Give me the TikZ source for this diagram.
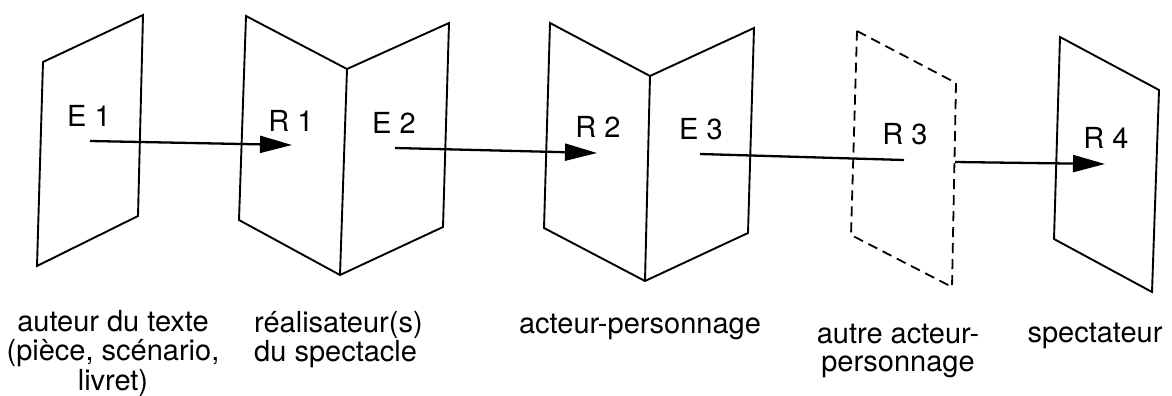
\documentclass[tikz,border=0pt]{standalone}
\usepackage{fontspec}
\setmainfont{TeX Gyre Heros}
\usetikzlibrary{arrows.meta}
\begin{document}
\begin{tikzpicture}[x=1pt,y=-1pt,
  panel/.style={line width=1.9pt, line join=miter},
  ghost/.style={line width=1.8pt, dash pattern=on 10pt off 6pt},
  flow/.style={line width=2.3pt, -{Triangle[length=32pt,width=17pt]}},
  flowplain/.style={line width=2.3pt},
  tag/.style={anchor=base, inner sep=0pt, font=\fontsize{29}{28.5}\selectfont},
  captext/.style={inner sep=0pt, font=\fontsize{29}{28.5}\selectfont}]
\useasboundingbox (0,0) rectangle (1172,396);

% panels
\draw[panel] (43,62) -- (143,15) -- (138,216) -- (37,266) -- cycle;
\draw[panel] (347,69) -- (246,16) -- (239,220) -- (340,275) -- (443,227) -- (449,23) -- cycle;
\draw[panel] (347,69) -- (340,275);
\draw[panel] (650,76) -- (550,23) -- (544,228) -- (645,281) -- (748,233) -- (754,28) -- cycle;
\draw[panel] (650,76) -- (645,281);
\draw[ghost] (857,31) -- (956,83) -- (952,287) -- (851,235) -- cycle;
\draw[panel] (1060,37) -- (1159,90) -- (1152,292) -- (1054,239) -- cycle;

% panel labels
\node[tag] (e1) at (89,126) {E 1};
\node[tag] (r1) at (291,131) {R 1};
\node[tag] (e2) at (394,133) {E 2};
\node[tag] (r2) at (598,137) {R 2};
\node[tag] (e3) at (701,139) {E 3};
\node[tag] (r3) at (905,144) {R 3};
\node[tag] (r4) at (1106,148) {R 4};

% arrows
\coordinate (a1s) at (90,141);  \coordinate (a1e) at (292,145);
\coordinate (a2s) at (395,148); \coordinate (a2e) at (597,153);
\coordinate (a3s) at (700,154); \coordinate (a3e) at (904,160);
\coordinate (a4s) at (955,162); \coordinate (a4e) at (1105,164);
\draw[flow] (a1s) -- (a1e);
\draw[flow] (a2s) -- (a2e);
\draw[flowplain] (a3s) -- (a3e);
\draw[flow] (a4s) -- (a4e);

% captions
\node[captext, anchor=base] (c1) at (113,331)
  {\begin{tabular}[t]{@{}c@{}}auteur du texte\\(pièce, scénario,\\livret)\end{tabular}};
\node[captext, anchor=base west] (c2) at (254,332)
  {\begin{tabular}[t]{@{}l@{}}réalisateur(s)\\du spectacle\end{tabular}};
\node[captext, anchor=base] (c3) at (640,333) {acteur-personnage};
\node[captext, anchor=base] (c4) at (898,343)
  {\begin{tabular}[t]{@{}c@{}}autre acteur-\\personnage\end{tabular}};
\node[captext, anchor=base] (c5) at (1095,342) {spectateur};
\end{tikzpicture}
\end{document}
